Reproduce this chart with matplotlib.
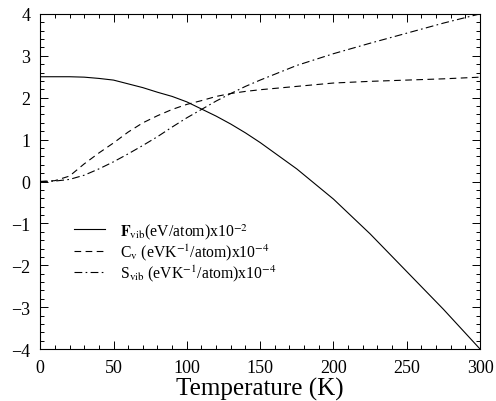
import matplotlib
matplotlib.use('Agg')
import matplotlib.pyplot as plt
from matplotlib.ticker import MultipleLocator

plt.rcParams['font.family'] = ['Liberation Serif', 'DejaVu Serif']
plt.rcParams['mathtext.fontset'] = 'stix'

# temperature grid (K)
temps = [0, 10, 20, 30, 40, 50, 60, 70, 80, 90, 100, 110, 120, 130, 140, 150,
         175, 200, 225, 250, 275, 300]

# F_vib in units of 1e-2 eV/atom
f_vib = [2.5, 2.5, 2.5, 2.49, 2.46, 2.42, 2.33, 2.24, 2.13, 2.03, 1.9, 1.73,
         1.56, 1.37, 1.16, 0.93, 0.3, -0.42, -1.25, -2.15, -3.05, -4.0]

# C_v in units of 1e-4 eV/K/atom
c_v = [0.0, 0.02, 0.13, 0.42, 0.68, 0.92, 1.18, 1.4, 1.57, 1.72, 1.84, 1.93,
       2.03, 2.1, 2.15, 2.19, 2.27, 2.35, 2.39, 2.42, 2.45, 2.49]

# S_vib in units of 1e-4 eV/K/atom
s_vib = [0.0, 0.01, 0.05, 0.15, 0.3, 0.47, 0.66, 0.86, 1.07, 1.3, 1.52, 1.72,
         1.92, 2.1, 2.27, 2.42, 2.77, 3.05, 3.3, 3.54, 3.78, 4.0]

labels = [r'$\mathbf{F}_{\rm vib}$(eV/atom)x10$^{-2}$',
          r'C$_{\rm v}$ (eVK$^{-1}$/atom)x10$^{-4}$',
          r'S$_{\rm vib}$ (eVK$^{-1}$/atom)x10$^{-4}$']

fig = plt.figure(figsize=(4.96, 4.02), dpi=100)
ax = fig.add_axes([0.081, 0.129, 0.887, 0.834])

lw = 0.8
ax.plot(temps, f_vib, color='black', lw=lw, ls='-', label=labels[0])
ax.plot(temps, c_v, color='black', lw=lw, ls=(0, (6, 4)), label=labels[1])
ax.plot(temps, s_vib, color='black', lw=lw, ls=(0, (7, 3, 1.5, 3)), label=labels[2])

ax.set_xlim(0, 300)
ax.set_ylim(-4, 4)
ax.xaxis.set_major_locator(MultipleLocator(50))
ax.xaxis.set_minor_locator(MultipleLocator(10))
ax.yaxis.set_major_locator(MultipleLocator(1))
ax.yaxis.set_minor_locator(MultipleLocator(0.2))
ax.tick_params(which='both', direction='in', top=True, right=True, labelsize=13, width=0.7)
ax.tick_params(which='major', length=6, pad=7)
ax.tick_params(which='minor', length=3)
for s in ax.spines.values():
    s.set_linewidth(0.8)

ax.set_xlabel('Temperature (K)', fontsize=18, labelpad=1)

ax.legend(loc='upper left', bbox_to_anchor=(0.045, 0.425), frameon=False,
          fontsize=11.3, handlelength=2.0, handletextpad=0.9, labelspacing=0.05)

fig.savefig('out.png', dpi=100)
